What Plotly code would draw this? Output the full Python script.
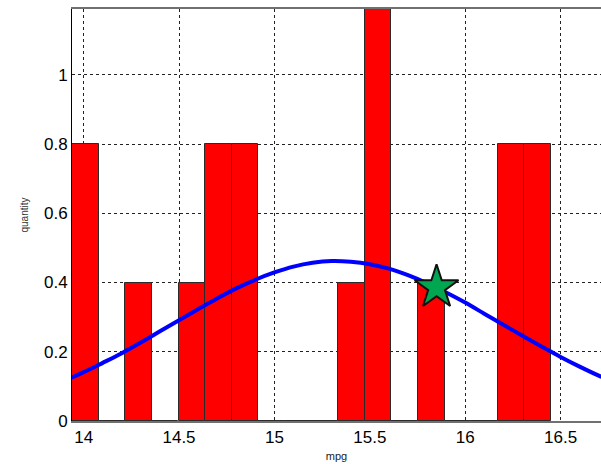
import plotly.graph_objects as go

# Histogram of mpg values (normalised heights), 18 equal-width bins
bin_centers = [14.009, 14.148, 14.288, 14.427, 14.567, 14.706, 14.846, 14.985, 15.125,
               15.264, 15.404, 15.543, 15.683, 15.822, 15.962, 16.101, 16.241, 16.380]
bin_heights = [0.8, 0.0, 0.4, 0.0, 0.4, 0.8, 0.8, 0.0, 0.0,
               0.0, 0.4, 1.2, 0.0, 0.4, 0.0, 0.0, 0.8, 0.8]
bin_width = 0.1395

# Fitted density curve
curve_x = [13.9, 14.0, 14.1, 14.2, 14.3, 14.4, 14.5, 14.6, 14.7, 14.8, 14.9, 15.0,
           15.1, 15.2, 15.3, 15.4, 15.5, 15.6, 15.7, 15.8, 15.9, 16.0, 16.1, 16.2,
           16.3, 16.4, 16.5, 16.6, 16.7, 16.8]
curve_y = [0.117, 0.141, 0.168, 0.196, 0.227, 0.259, 0.291, 0.323, 0.354, 0.383, 0.408, 0.429,
           0.446, 0.457, 0.462, 0.460, 0.453, 0.440, 0.421, 0.398, 0.371, 0.342, 0.310, 0.278,
           0.246, 0.215, 0.185, 0.157, 0.131, 0.109]

# Highlighted observation
point_x = [15.85]
point_y = [0.386]

x_ticks = [14, 14.5, 15, 15.5, 16, 16.5]
x_tick_labels = ["14", "14.5", "15", "15.5", "16", "16.5"]
y_ticks = [0, 0.2, 0.4, 0.6, 0.8, 1.0]
y_tick_labels = ["0", "0.2", "0.4", "0.6", "0.8", "1"]

fig = go.Figure()

fig.add_trace(go.Bar(
    x=bin_centers, y=bin_heights, width=bin_width,
    marker=dict(color="#FF0000", line=dict(color="#2a2a2a", width=1)),
    showlegend=False, hoverinfo="skip",
))

fig.add_trace(go.Scatter(
    x=curve_x, y=curve_y, mode="lines",
    line=dict(color="#0000FF", width=4, shape="spline"),
    showlegend=False,
))

fig.add_trace(go.Scatter(
    x=point_x, y=point_y, mode="markers",
    marker=dict(symbol="star", size=33, color="#00A650",
                line=dict(color="#111111", width=2)),
    showlegend=False,
))

grid_style = dict(showgrid=True, gridcolor="#222222", gridwidth=1, griddash="3px,3px")
tick_font = dict(family="Liberation Sans, Arial, sans-serif", size=17, color="#000000")

fig.update_layout(
    width=601, height=464,
    margin=dict(l=72, r=0, t=9, b=43),
    paper_bgcolor="white", plot_bgcolor="white",
    bargap=0,
    xaxis=dict(
        range=[13.939, 16.712], tickvals=x_ticks, ticktext=x_tick_labels,
        tickfont=tick_font, ticks="", showline=True, linecolor="#707070",
        linewidth=2, mirror=True, zeroline=False,
        title=dict(text="mpg", font=dict(family="Liberation Sans, Arial, sans-serif",
                                         size=11, color="#222222"), standoff=6),
        **grid_style,
    ),
    yaxis=dict(
        range=[0, 1.19], tickvals=y_ticks, ticktext=y_tick_labels,
        tickfont=tick_font, ticks="", showline=True, linecolor="#000000",
        linewidth=1, zeroline=False,
        title=dict(text="quantity", font=dict(family="Liberation Sans, Arial, sans-serif",
                                              size=10, color="#333333"), standoff=13),
        **grid_style,
    ),
)

fig.write_html("out.html")
